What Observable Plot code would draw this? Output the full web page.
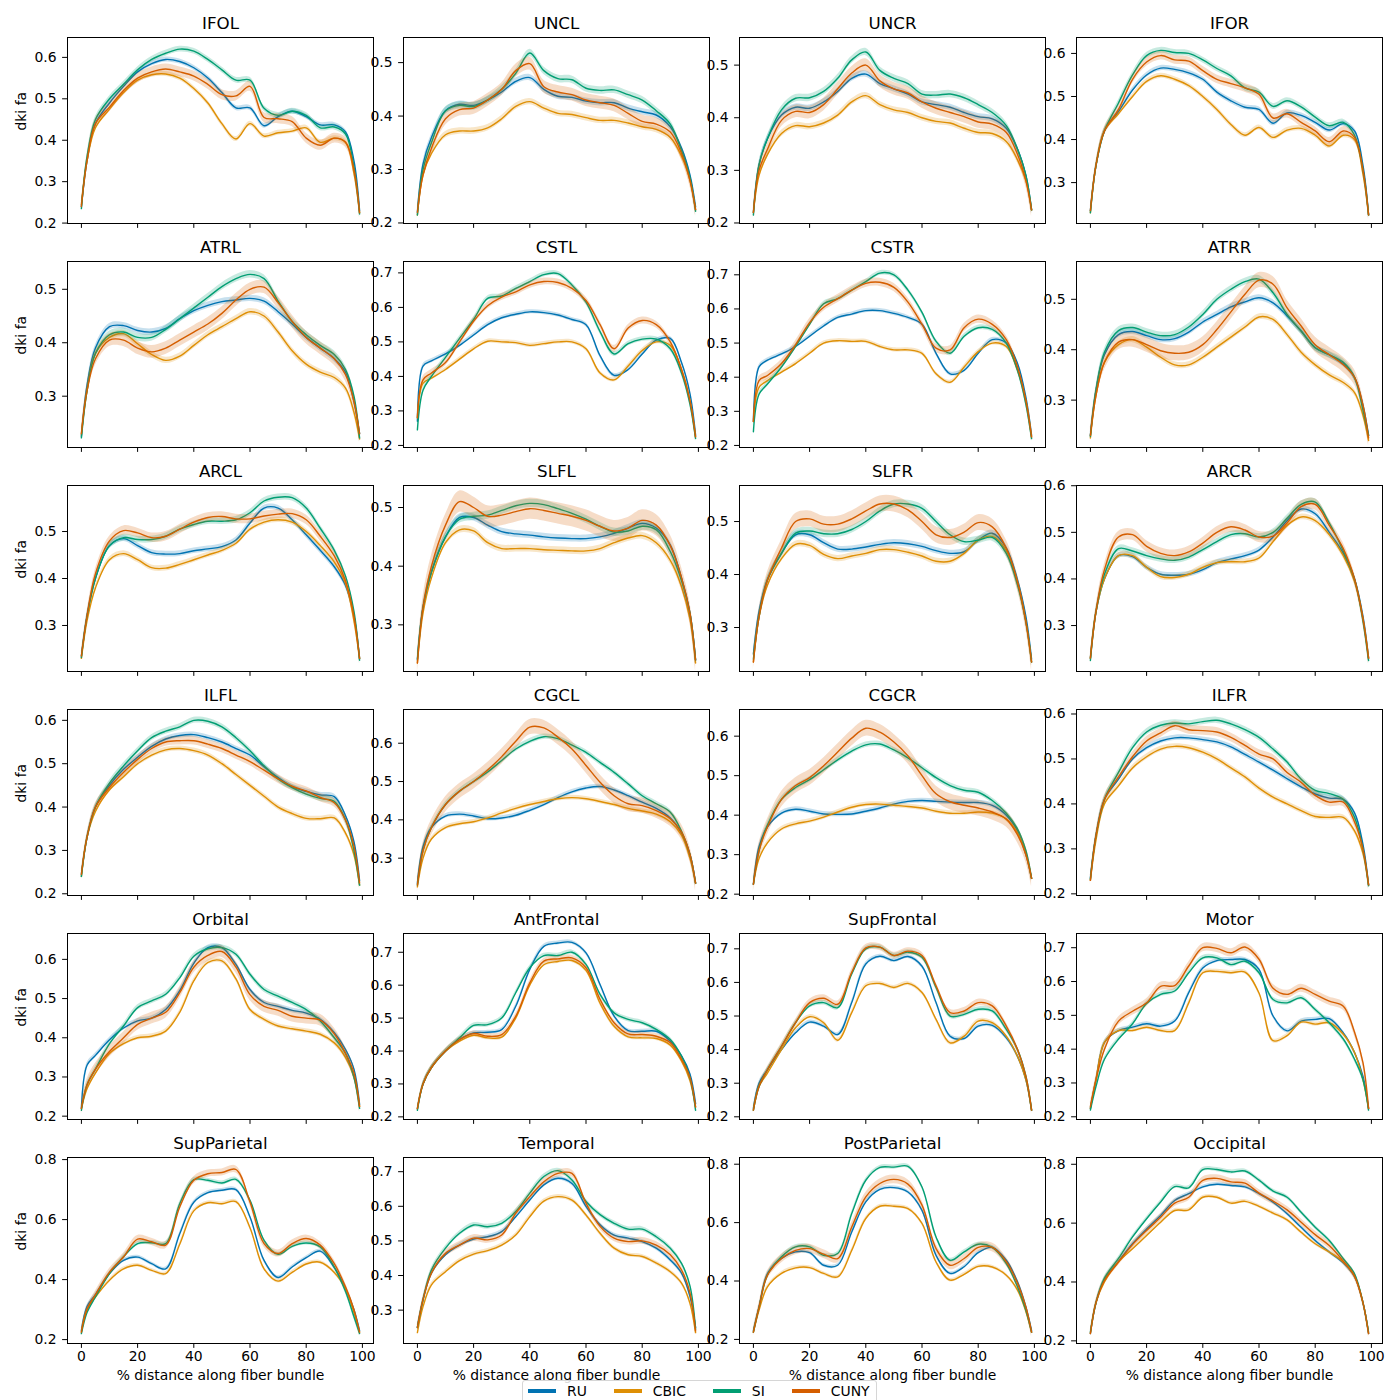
<!DOCTYPE html>
<html><head><meta charset="utf-8">
<script src="https://cdn.jsdelivr.net/npm/d3@7"></script>
<script src="https://cdn.jsdelivr.net/npm/@observablehq/plot@0.6"></script>
<style>
body{margin:0;background:#fff;font-family:"DejaVu Sans",sans-serif;}
#chart{position:relative;width:1400px;height:1400px;overflow:hidden;background:#fff;}
.panel{position:absolute;}
#legend{position:absolute;left:522px;top:1380px;height:24px;box-sizing:border-box;border:1px solid #d6d6d6;border-radius:3px;background:rgba(255,255,255,0.85);display:flex;align-items:flex-start;padding:2px 6px 0 5px;font-family:"DejaVu Sans";font-size:13.9px;line-height:16px;color:#000;}
#legend .it{display:flex;align-items:center;margin-right:27px;}
#legend .it:last-child{margin-right:0;}
#legend .sw{width:28px;height:4px;margin-right:11px;}
</style></head><body><div id="chart"></div><script>
// node positions (% distance along fiber bundle)
const nodes = [0,2,5,10,15,20,25,30,35,40,45,50,55,60,65,70,75,80,85,90,94,97,99];
const bundles = ["IFOL","UNCL","UNCR","IFOR","ATRL","CSTL","CSTR","ATRR","ARCL","SLFL","SLFR","ARCR",
  "ILFL","CGCL","CGCR","ILFR","Orbital","AntFrontal","SupFrontal","Motor","SupParietal","Temporal","PostParietal","Occipital"];
const sites = ["RU","CBIC","SI","CUNY"];
const siteColors = ["#0173B2","#DE8F05","#029E73","#D55E00"];
const xTicks = [0,20,40,60,80,100];

const RU = {
IFOL:[0.24,0.35,0.44,0.49,0.53,0.565,0.585,0.595,0.59,0.575,0.55,0.515,0.478,0.478,0.435,0.457,0.47,0.457,0.437,0.437,0.42,0.35,0.23],
UNCL:[0.22,0.31,0.36,0.41,0.422,0.42,0.43,0.445,0.465,0.472,0.45,0.437,0.435,0.428,0.425,0.425,0.415,0.408,0.402,0.38,0.34,0.29,0.23],
UNCR:[0.22,0.31,0.36,0.405,0.42,0.418,0.43,0.45,0.475,0.483,0.465,0.455,0.445,0.43,0.425,0.42,0.41,0.402,0.398,0.38,0.34,0.29,0.225],
IFOR:[0.235,0.34,0.42,0.465,0.515,0.55,0.566,0.563,0.555,0.54,0.51,0.49,0.475,0.47,0.438,0.462,0.456,0.44,0.422,0.437,0.42,0.34,0.225],
ATRL:[0.225,0.32,0.39,0.43,0.432,0.423,0.42,0.427,0.445,0.46,0.47,0.477,0.48,0.483,0.478,0.458,0.435,0.41,0.39,0.37,0.345,0.29,0.23],
CSTL:[0.27,0.43,0.445,0.465,0.49,0.52,0.55,0.57,0.58,0.587,0.585,0.578,0.565,0.55,0.46,0.403,0.42,0.465,0.505,0.51,0.44,0.35,0.23],
CSTR:[0.27,0.43,0.45,0.468,0.49,0.52,0.55,0.575,0.585,0.595,0.595,0.587,0.575,0.555,0.47,0.41,0.42,0.47,0.51,0.5,0.44,0.34,0.23],
ATRR:[0.23,0.32,0.39,0.43,0.436,0.428,0.42,0.422,0.435,0.455,0.47,0.485,0.495,0.503,0.493,0.467,0.437,0.404,0.39,0.372,0.345,0.29,0.23],
ARCL:[0.235,0.32,0.4,0.47,0.485,0.47,0.455,0.452,0.453,0.459,0.463,0.468,0.482,0.518,0.55,0.55,0.525,0.493,0.46,0.425,0.385,0.32,0.23],
SLFL:[0.24,0.33,0.39,0.45,0.483,0.483,0.47,0.459,0.455,0.453,0.45,0.448,0.447,0.447,0.45,0.456,0.465,0.473,0.465,0.436,0.38,0.32,0.24],
SLFR:[0.25,0.33,0.39,0.44,0.475,0.475,0.46,0.448,0.448,0.452,0.457,0.46,0.458,0.453,0.445,0.44,0.443,0.465,0.478,0.45,0.39,0.32,0.24],
ARCR:[0.23,0.33,0.4,0.45,0.448,0.425,0.41,0.408,0.41,0.42,0.435,0.443,0.45,0.462,0.49,0.525,0.55,0.54,0.5,0.455,0.4,0.32,0.23],
ILFL:[0.245,0.33,0.4,0.45,0.487,0.515,0.54,0.557,0.565,0.567,0.56,0.55,0.535,0.52,0.493,0.468,0.447,0.436,0.428,0.424,0.38,0.32,0.23],
CGCL:[0.235,0.33,0.38,0.41,0.415,0.41,0.403,0.405,0.412,0.425,0.44,0.458,0.473,0.483,0.487,0.478,0.463,0.446,0.43,0.405,0.365,0.31,0.235],
CGCR:[0.225,0.32,0.37,0.405,0.415,0.41,0.403,0.402,0.403,0.41,0.418,0.428,0.435,0.437,0.435,0.433,0.432,0.432,0.425,0.4,0.36,0.3,0.24],
ILFR:[0.235,0.33,0.41,0.455,0.5,0.525,0.54,0.547,0.547,0.543,0.538,0.527,0.51,0.493,0.475,0.456,0.438,0.422,0.413,0.41,0.38,0.31,0.22],
Orbital:[0.22,0.33,0.355,0.395,0.425,0.443,0.45,0.472,0.52,0.59,0.63,0.63,0.587,0.523,0.49,0.48,0.47,0.463,0.447,0.413,0.37,0.32,0.23],
AntFrontal:[0.225,0.3,0.35,0.4,0.435,0.455,0.457,0.465,0.536,0.648,0.718,0.728,0.73,0.698,0.602,0.506,0.462,0.46,0.46,0.43,0.385,0.33,0.24],
SupFrontal:[0.225,0.3,0.34,0.4,0.45,0.482,0.47,0.445,0.54,0.655,0.678,0.665,0.677,0.648,0.54,0.44,0.433,0.47,0.472,0.435,0.38,0.31,0.22],
Motor:[0.225,0.31,0.42,0.455,0.465,0.475,0.468,0.483,0.567,0.64,0.662,0.665,0.665,0.636,0.498,0.454,0.483,0.488,0.49,0.448,0.39,0.32,0.225],
SupParietal:[0.23,0.31,0.35,0.42,0.464,0.475,0.453,0.436,0.553,0.658,0.69,0.698,0.7,0.609,0.464,0.407,0.442,0.473,0.495,0.44,0.37,0.3,0.23],
Temporal:[0.25,0.33,0.407,0.46,0.488,0.505,0.512,0.527,0.57,0.618,0.662,0.681,0.666,0.6,0.547,0.517,0.508,0.498,0.479,0.445,0.407,0.34,0.25],
PostParietal:[0.23,0.31,0.425,0.477,0.5,0.497,0.454,0.454,0.568,0.671,0.714,0.72,0.705,0.642,0.488,0.426,0.449,0.497,0.515,0.471,0.397,0.31,0.23],
Occipital:[0.225,0.33,0.408,0.47,0.53,0.58,0.626,0.677,0.7,0.723,0.732,0.728,0.723,0.7,0.671,0.632,0.586,0.541,0.502,0.465,0.418,0.33,0.225]
};
const CBIC = {
IFOL:[0.245,0.35,0.43,0.475,0.515,0.545,0.558,0.56,0.55,0.525,0.49,0.44,0.403,0.44,0.41,0.418,0.422,0.43,0.395,0.405,0.395,0.32,0.225],
UNCL:[0.215,0.29,0.33,0.365,0.372,0.372,0.378,0.395,0.418,0.427,0.415,0.405,0.403,0.397,0.392,0.392,0.387,0.38,0.375,0.36,0.325,0.28,0.225],
UNCR:[0.22,0.29,0.33,0.37,0.385,0.383,0.39,0.405,0.43,0.442,0.425,0.415,0.41,0.4,0.393,0.39,0.38,0.372,0.37,0.355,0.32,0.28,0.225],
IFOR:[0.23,0.34,0.42,0.46,0.5,0.535,0.548,0.54,0.525,0.5,0.47,0.435,0.41,0.428,0.405,0.422,0.426,0.41,0.385,0.41,0.4,0.32,0.225],
ATRL:[0.228,0.31,0.38,0.41,0.417,0.398,0.378,0.367,0.375,0.395,0.415,0.43,0.445,0.458,0.45,0.42,0.385,0.36,0.345,0.335,0.315,0.27,0.22],
CSTL:[0.28,0.38,0.395,0.42,0.45,0.48,0.502,0.5,0.498,0.49,0.495,0.5,0.5,0.48,0.41,0.39,0.43,0.475,0.5,0.49,0.42,0.33,0.225],
CSTR:[0.27,0.37,0.39,0.415,0.44,0.47,0.5,0.507,0.505,0.505,0.49,0.48,0.48,0.47,0.41,0.385,0.43,0.475,0.5,0.49,0.42,0.33,0.225],
ATRR:[0.225,0.31,0.375,0.41,0.42,0.405,0.385,0.37,0.37,0.385,0.405,0.425,0.445,0.465,0.46,0.43,0.395,0.37,0.35,0.335,0.315,0.27,0.22],
ARCL:[0.23,0.31,0.38,0.44,0.453,0.44,0.423,0.422,0.43,0.44,0.45,0.46,0.475,0.505,0.52,0.525,0.52,0.5,0.47,0.435,0.39,0.31,0.23],
SLFL:[0.235,0.32,0.38,0.44,0.462,0.46,0.44,0.43,0.43,0.43,0.428,0.427,0.426,0.426,0.43,0.44,0.448,0.452,0.44,0.41,0.365,0.31,0.235],
SLFR:[0.235,0.32,0.38,0.43,0.457,0.455,0.438,0.43,0.435,0.44,0.447,0.447,0.442,0.435,0.425,0.425,0.44,0.465,0.472,0.445,0.385,0.31,0.235],
ARCR:[0.23,0.33,0.4,0.45,0.45,0.425,0.405,0.403,0.41,0.425,0.435,0.437,0.437,0.445,0.48,0.515,0.533,0.525,0.495,0.45,0.395,0.315,0.23],
ILFL:[0.24,0.33,0.39,0.44,0.47,0.5,0.52,0.532,0.535,0.53,0.52,0.5,0.475,0.45,0.425,0.4,0.385,0.374,0.373,0.375,0.34,0.29,0.22],
CGCL:[0.225,0.3,0.35,0.38,0.39,0.395,0.405,0.418,0.43,0.44,0.448,0.455,0.458,0.455,0.448,0.44,0.43,0.423,0.415,0.395,0.36,0.3,0.235],
CGCR:[0.225,0.29,0.33,0.365,0.378,0.385,0.395,0.408,0.42,0.427,0.428,0.425,0.422,0.418,0.41,0.405,0.405,0.408,0.405,0.39,0.355,0.3,0.24],
ILFR:[0.23,0.32,0.4,0.44,0.48,0.505,0.522,0.528,0.525,0.515,0.5,0.48,0.46,0.435,0.415,0.4,0.385,0.372,0.37,0.37,0.34,0.29,0.22],
Orbital:[0.22,0.27,0.31,0.36,0.385,0.4,0.404,0.417,0.465,0.545,0.592,0.596,0.55,0.472,0.447,0.43,0.423,0.417,0.409,0.387,0.35,0.3,0.225],
AntFrontal:[0.225,0.3,0.35,0.4,0.43,0.448,0.44,0.442,0.5,0.6,0.662,0.672,0.675,0.645,0.545,0.475,0.443,0.44,0.438,0.418,0.37,0.31,0.23],
SupFrontal:[0.22,0.29,0.33,0.4,0.465,0.498,0.48,0.428,0.51,0.59,0.597,0.585,0.597,0.57,0.49,0.42,0.44,0.485,0.48,0.44,0.38,0.31,0.22],
Motor:[0.225,0.31,0.42,0.455,0.455,0.465,0.455,0.455,0.537,0.626,0.63,0.626,0.628,0.566,0.425,0.44,0.48,0.474,0.478,0.444,0.39,0.31,0.225],
SupParietal:[0.225,0.3,0.342,0.398,0.436,0.448,0.431,0.42,0.518,0.629,0.656,0.653,0.66,0.573,0.436,0.395,0.424,0.452,0.458,0.424,0.369,0.29,0.225],
Temporal:[0.235,0.31,0.373,0.411,0.443,0.462,0.472,0.488,0.517,0.57,0.615,0.628,0.618,0.575,0.522,0.479,0.46,0.455,0.436,0.411,0.378,0.32,0.235],
PostParietal:[0.225,0.3,0.38,0.426,0.445,0.446,0.426,0.414,0.505,0.614,0.656,0.656,0.648,0.597,0.465,0.403,0.423,0.45,0.448,0.42,0.369,0.295,0.225],
Occipital:[0.225,0.33,0.4,0.468,0.513,0.558,0.603,0.643,0.645,0.688,0.688,0.668,0.674,0.657,0.634,0.611,0.569,0.53,0.502,0.468,0.42,0.33,0.225]
};
const SI = {
IFOL:[0.235,0.36,0.45,0.5,0.535,0.57,0.595,0.61,0.62,0.615,0.595,0.57,0.545,0.545,0.477,0.46,0.47,0.46,0.43,0.432,0.415,0.335,0.222],
UNCL:[0.215,0.3,0.35,0.41,0.42,0.418,0.43,0.45,0.48,0.518,0.485,0.47,0.468,0.452,0.448,0.449,0.44,0.43,0.41,0.385,0.335,0.285,0.222],
UNCR:[0.215,0.31,0.36,0.415,0.437,0.438,0.45,0.475,0.51,0.525,0.49,0.475,0.465,0.445,0.443,0.445,0.438,0.425,0.41,0.385,0.34,0.29,0.225],
IFOR:[0.23,0.34,0.42,0.485,0.55,0.595,0.607,0.602,0.6,0.585,0.565,0.548,0.52,0.51,0.477,0.49,0.476,0.452,0.432,0.44,0.41,0.33,0.225],
ATRL:[0.222,0.31,0.38,0.415,0.42,0.41,0.41,0.425,0.445,0.465,0.485,0.505,0.52,0.528,0.52,0.478,0.44,0.415,0.395,0.378,0.35,0.3,0.222],
CSTL:[0.245,0.36,0.4,0.455,0.51,0.565,0.626,0.633,0.655,0.675,0.695,0.698,0.665,0.615,0.53,0.465,0.495,0.508,0.508,0.48,0.41,0.32,0.22],
CSTR:[0.24,0.35,0.38,0.43,0.49,0.555,0.615,0.63,0.655,0.68,0.705,0.7,0.655,0.59,0.505,0.47,0.52,0.545,0.54,0.5,0.42,0.32,0.22],
ATRR:[0.228,0.32,0.395,0.438,0.444,0.435,0.428,0.43,0.445,0.47,0.5,0.52,0.535,0.54,0.513,0.47,0.437,0.404,0.39,0.375,0.345,0.28,0.23],
ARCL:[0.232,0.32,0.4,0.47,0.487,0.483,0.483,0.49,0.505,0.515,0.522,0.522,0.525,0.54,0.565,0.573,0.572,0.55,0.507,0.46,0.405,0.33,0.226],
SLFL:[0.242,0.33,0.39,0.45,0.48,0.485,0.487,0.495,0.503,0.507,0.505,0.498,0.49,0.48,0.468,0.458,0.46,0.468,0.462,0.425,0.375,0.32,0.24],
SLFR:[0.24,0.32,0.39,0.44,0.478,0.482,0.477,0.477,0.485,0.5,0.52,0.533,0.533,0.525,0.5,0.475,0.462,0.465,0.47,0.44,0.38,0.31,0.235],
ARCR:[0.225,0.33,0.41,0.465,0.46,0.45,0.443,0.44,0.447,0.463,0.48,0.495,0.497,0.49,0.5,0.53,0.56,0.565,0.52,0.46,0.4,0.31,0.225],
ILFL:[0.24,0.33,0.4,0.455,0.495,0.53,0.56,0.575,0.585,0.6,0.598,0.585,0.56,0.53,0.495,0.465,0.445,0.43,0.42,0.413,0.37,0.3,0.22],
CGCL:[0.23,0.32,0.38,0.44,0.475,0.5,0.525,0.555,0.585,0.605,0.617,0.612,0.595,0.576,0.55,0.524,0.494,0.463,0.442,0.42,0.37,0.31,0.235],
CGCR:[0.225,0.31,0.375,0.44,0.47,0.49,0.515,0.54,0.562,0.578,0.58,0.565,0.545,0.52,0.495,0.475,0.463,0.458,0.437,0.405,0.365,0.31,0.24],
ILFR:[0.232,0.33,0.41,0.47,0.525,0.56,0.575,0.58,0.578,0.583,0.586,0.578,0.565,0.548,0.522,0.493,0.455,0.43,0.423,0.41,0.37,0.3,0.218],
Orbital:[0.215,0.28,0.32,0.385,0.43,0.477,0.494,0.511,0.553,0.608,0.627,0.63,0.613,0.562,0.523,0.506,0.49,0.472,0.443,0.4,0.36,0.3,0.22],
AntFrontal:[0.22,0.3,0.35,0.4,0.44,0.478,0.48,0.5,0.577,0.653,0.69,0.69,0.7,0.663,0.572,0.516,0.496,0.486,0.466,0.435,0.384,0.32,0.22],
SupFrontal:[0.22,0.29,0.34,0.41,0.48,0.53,0.54,0.525,0.625,0.7,0.705,0.68,0.69,0.675,0.585,0.5,0.505,0.52,0.515,0.46,0.4,0.32,0.22],
Motor:[0.22,0.29,0.37,0.43,0.475,0.535,0.562,0.572,0.626,0.67,0.67,0.65,0.66,0.626,0.547,0.537,0.552,0.517,0.478,0.43,0.37,0.31,0.22],
SupParietal:[0.22,0.29,0.342,0.42,0.476,0.52,0.523,0.52,0.653,0.733,0.731,0.722,0.734,0.664,0.531,0.484,0.511,0.522,0.509,0.442,0.36,0.276,0.22],
Temporal:[0.25,0.33,0.416,0.479,0.522,0.546,0.541,0.551,0.585,0.638,0.686,0.703,0.676,0.614,0.576,0.551,0.534,0.534,0.512,0.479,0.435,0.37,0.245],
PostParietal:[0.225,0.31,0.42,0.483,0.517,0.517,0.488,0.494,0.631,0.745,0.789,0.79,0.793,0.722,0.551,0.471,0.5,0.526,0.515,0.46,0.38,0.3,0.225],
Occipital:[0.23,0.33,0.413,0.48,0.553,0.615,0.672,0.724,0.72,0.782,0.782,0.774,0.777,0.746,0.709,0.688,0.637,0.586,0.541,0.479,0.428,0.33,0.23]
};
const CUNY = {
IFOL:[0.24,0.35,0.44,0.48,0.52,0.55,0.565,0.572,0.565,0.555,0.535,0.51,0.507,0.53,0.455,0.452,0.445,0.405,0.388,0.405,0.395,0.33,0.225],
UNCL:[0.22,0.29,0.34,0.395,0.412,0.415,0.43,0.45,0.485,0.498,0.455,0.445,0.44,0.43,0.425,0.42,0.405,0.39,0.385,0.37,0.33,0.28,0.225],
UNCR:[0.22,0.3,0.34,0.395,0.412,0.41,0.425,0.455,0.485,0.5,0.47,0.455,0.447,0.43,0.418,0.41,0.402,0.392,0.388,0.372,0.33,0.28,0.225],
IFOR:[0.235,0.34,0.42,0.47,0.54,0.58,0.595,0.585,0.582,0.56,0.54,0.53,0.52,0.505,0.45,0.46,0.44,0.42,0.395,0.42,0.405,0.33,0.225],
ATRL:[0.23,0.31,0.37,0.405,0.405,0.39,0.383,0.39,0.405,0.42,0.435,0.455,0.48,0.5,0.504,0.475,0.44,0.41,0.39,0.37,0.34,0.29,0.23],
CSTL:[0.28,0.39,0.41,0.44,0.5,0.56,0.605,0.63,0.645,0.665,0.675,0.672,0.655,0.62,0.55,0.48,0.54,0.562,0.55,0.5,0.42,0.33,0.225],
CSTR:[0.27,0.39,0.405,0.44,0.495,0.56,0.605,0.63,0.655,0.675,0.678,0.663,0.62,0.555,0.485,0.48,0.545,0.57,0.555,0.51,0.43,0.33,0.225],
ATRR:[0.23,0.31,0.375,0.415,0.42,0.41,0.398,0.393,0.395,0.41,0.44,0.475,0.51,0.538,0.53,0.483,0.447,0.41,0.39,0.37,0.345,0.29,0.225],
ARCL:[0.235,0.32,0.41,0.48,0.502,0.497,0.487,0.49,0.505,0.52,0.53,0.532,0.527,0.527,0.533,0.537,0.538,0.525,0.49,0.448,0.395,0.32,0.23],
SLFL:[0.235,0.33,0.4,0.47,0.51,0.5,0.485,0.487,0.493,0.498,0.495,0.49,0.485,0.478,0.468,0.46,0.465,0.478,0.47,0.435,0.38,0.32,0.24],
SLFR:[0.235,0.32,0.39,0.45,0.5,0.505,0.495,0.495,0.505,0.52,0.533,0.533,0.522,0.5,0.475,0.47,0.48,0.498,0.49,0.45,0.385,0.31,0.235],
ARCR:[0.23,0.33,0.42,0.49,0.495,0.47,0.455,0.45,0.458,0.477,0.5,0.512,0.505,0.49,0.492,0.52,0.555,0.56,0.515,0.465,0.4,0.315,0.23],
ILFL:[0.245,0.33,0.4,0.445,0.48,0.51,0.535,0.55,0.553,0.553,0.545,0.535,0.52,0.505,0.485,0.465,0.448,0.437,0.422,0.41,0.37,0.31,0.225],
CGCL:[0.23,0.32,0.38,0.44,0.475,0.5,0.53,0.565,0.605,0.642,0.64,0.616,0.585,0.542,0.498,0.463,0.442,0.437,0.424,0.403,0.368,0.31,0.235],
CGCR:[0.225,0.31,0.37,0.44,0.475,0.495,0.525,0.56,0.595,0.62,0.61,0.585,0.55,0.5,0.454,0.434,0.425,0.418,0.408,0.39,0.35,0.3,0.24],
ILFR:[0.23,0.33,0.41,0.46,0.505,0.54,0.558,0.574,0.565,0.563,0.56,0.548,0.53,0.511,0.5,0.47,0.448,0.419,0.404,0.404,0.36,0.3,0.22],
Orbital:[0.22,0.28,0.32,0.365,0.4,0.434,0.45,0.465,0.515,0.58,0.61,0.62,0.58,0.51,0.48,0.47,0.455,0.45,0.445,0.41,0.36,0.31,0.225],
AntFrontal:[0.225,0.3,0.35,0.4,0.435,0.453,0.445,0.45,0.505,0.607,0.673,0.68,0.683,0.653,0.557,0.486,0.452,0.45,0.445,0.425,0.375,0.32,0.23],
SupFrontal:[0.22,0.29,0.34,0.41,0.48,0.54,0.553,0.535,0.63,0.703,0.705,0.68,0.693,0.68,0.59,0.51,0.515,0.54,0.53,0.47,0.4,0.32,0.22],
Motor:[0.23,0.31,0.4,0.483,0.512,0.537,0.586,0.588,0.646,0.7,0.698,0.685,0.702,0.666,0.58,0.562,0.58,0.562,0.542,0.527,0.45,0.36,0.225],
SupParietal:[0.225,0.3,0.35,0.425,0.476,0.535,0.526,0.515,0.642,0.731,0.753,0.757,0.767,0.659,0.52,0.487,0.52,0.537,0.515,0.453,0.376,0.3,0.225],
Temporal:[0.25,0.33,0.407,0.464,0.488,0.508,0.503,0.517,0.58,0.628,0.671,0.695,0.695,0.609,0.542,0.508,0.498,0.5,0.488,0.46,0.416,0.35,0.24],
PostParietal:[0.225,0.31,0.42,0.477,0.505,0.511,0.492,0.477,0.585,0.688,0.734,0.748,0.732,0.66,0.511,0.454,0.477,0.515,0.515,0.466,0.392,0.31,0.225],
Occipital:[0.225,0.33,0.405,0.468,0.527,0.575,0.62,0.668,0.688,0.745,0.752,0.74,0.736,0.702,0.675,0.645,0.603,0.561,0.524,0.471,0.42,0.33,0.225]
};
// half-width of the shaded confidence band
const bandRU = 0.006, bandCBIC = 0.006, bandSI = 0.007;
const bandCUNY = {IFOL:0.012,UNCL:0.012,UNCR:0.012,IFOR:0.01,ATRL:0.012,CSTL:0.01,CSTR:0.012,ATRR:0.015,
  ARCL:0.01,SLFL:0.018,SLFR:0.015,ARCR:0.012,ILFL:0.01,CGCL:0.02,CGCR:0.02,ILFR:0.01,
  Orbital:0.015,AntFrontal:0.008,SupFrontal:0.01,Motor:0.012,SupParietal:0.012,Temporal:0.01,PostParietal:0.015,Occipital:0.012};
// y-axis limits
const yLimits = {IFOL:[0.199,0.648],UNCL:[0.199,0.547],UNCR:[0.199,0.5525],IFOR:[0.205,0.637],
  ATRL:[0.204,0.552],CSTL:[0.194,0.733],CSTR:[0.194,0.739],ATRR:[0.206,0.575],
  ARCL:[0.202,0.598],SLFL:[0.2205,0.5375],SLFR:[0.217,0.568],ARCR:[0.2014,0.6005],
  ILFL:[0.196,0.625],CGCL:[0.2026,0.688],CGCR:[0.1966,0.6675],ILFR:[0.1963,0.61],
  Orbital:[0.1915,0.666],AntFrontal:[0.192,0.757],SupFrontal:[0.192,0.7456],Motor:[0.192,0.742],
  SupParietal:[0.187,0.807],Temporal:[0.2036,0.741],PostParietal:[0.186,0.823],Occipital:[0.191,0.823]};

const series = {RU, CBIC, SI, CUNY};
const chart = document.getElementById("chart");
const colLeft = [66.5, 402.9, 739.3, 1075.7];
const rowTop = [37.3, 261.3, 485.3, 709.3, 933.3, 1157.3];
const W = 306, H = 186, mL = 58, mR = 8, mT = 32, mB = 50;
const fs = 13.9;

bundles.forEach((b, k) => {
  const r = Math.floor(k / 4), c = k % 4;
  const [lo, hi] = yLimits[b];
  const step = (hi - lo) > 0.6 ? 0.2 : 0.1;
  const yTicks = [];
  for (let t = Math.ceil(lo / step - 1e-9); t <= Math.floor(hi / step + 1e-9); t++) yTicks.push(+(t * step).toFixed(2));
  const marks = [];
  sites.forEach((s, si) => {
    const vals = series[s][b];
    const bw = s === "CUNY" ? bandCUNY[b] : s === "RU" ? bandRU : s === "CBIC" ? bandCBIC : bandSI;
    const rows = nodes.map((x, i) => ({x, y: vals[i], lo: vals[i] - bw, hi: vals[i] + bw}));
    marks.push(Plot.areaY(rows, {x: "x", y1: "lo", y2: "hi", fill: siteColors[si], fillOpacity: 0.22, curve: "catmull-rom"}));
    marks.push(Plot.line(rows, {x: "x", y: "y", stroke: siteColors[si], strokeWidth: 1.4, curve: "catmull-rom"}));
  });
  marks.push(Plot.frame({stroke: "black", strokeWidth: 1}));
  marks.push(Plot.axisY(yTicks, {tickSize: 4.9, tickPadding: 6, fontSize: fs, tickFormat: d3.format(".1f"), label: null}));
  marks.push(Plot.axisX(xTicks, {tickSize: 4.9, tickPadding: 3, fontSize: fs, tickFormat: r === 5 ? (d => String(d)) : (() => ""), label: null}));
  marks.push(Plot.text([b], {text: d => d, frameAnchor: "top", dy: -9, lineAnchor: "bottom", fontSize: 16.7}));
  if (c === 0) marks.push(Plot.text(["dki fa"], {text: d => d, frameAnchor: "left", dx: -46, rotate: -90, fontSize: fs}));
  if (r === 5) marks.push(Plot.text(["% distance along fiber bundle"], {text: d => d, frameAnchor: "bottom", dy: 32.5, lineAnchor: "middle", fontSize: fs}));
  const svg = Plot.plot({
    width: W + mL + mR, height: H + mT + mB,
    marginLeft: mL, marginRight: mR, marginTop: mT, marginBottom: mB,
    x: {domain: [-4.95, 103.95], label: null},
    y: {domain: [lo, hi], label: null},
    style: {background: "transparent", fontFamily: "DejaVu Sans", color: "black", overflow: "visible", maxWidth: "none"},
    marks
  });
  const div = document.createElement("div");
  div.className = "panel";
  div.style.left = (colLeft[c] - mL) + "px";
  div.style.top = (rowTop[r] - mT) + "px";
  div.appendChild(svg);
  chart.appendChild(div);
});

// legend
const leg = document.createElement("div");
leg.id = "legend";
sites.forEach((s, i) => {
  const it = document.createElement("div"); it.className = "it";
  const sw = document.createElement("div"); sw.className = "sw"; sw.style.background = siteColors[i];
  const tx = document.createElement("span"); tx.textContent = s;
  it.appendChild(sw); it.appendChild(tx); leg.appendChild(it);
});
chart.appendChild(leg);
</script></body></html>
